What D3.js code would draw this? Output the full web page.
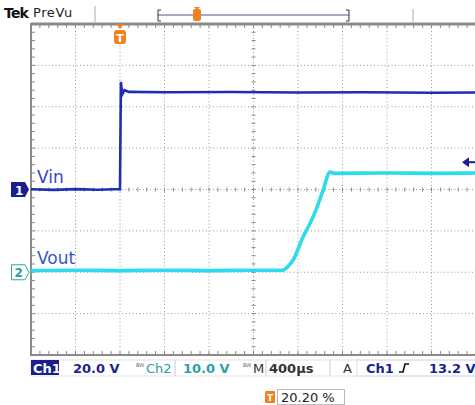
<!DOCTYPE html>
<html>
<head>
<meta charset="utf-8">
<title>Tek PreVu</title>
<style>
  body { margin: 0; background: #fff; }
  text { font-family: "DejaVu Sans", sans-serif; }
</style>
</head>
<body>
<script src="https://d3js.org/d3.v7.min.js"></script>
<script>
// time in microseconds relative to trigger, volts per channel
var vinTime = [-800, -600, -400, -200, -50, 0, 8, 20, 40, 80, 400, 1000, 1600, 2200, 2800, 3200];
var vinVolts = [0.1, -0.2, 0.2, -0.1, 0.1, 0.1, 52, 46, 48, 47.2, 47.0, 47.1, 46.9, 47.0, 46.8, 46.9];

var voutTime = [-800, -400, 0, 400, 800, 1200, 1465, 1510, 1555, 1645, 1708, 1771, 1825, 1888, 1933, 2400, 2800, 3200];
var voutVolts = [0.4, 0.5, 0.4, 0.5, 0.4, 0.5, 0.5, 1.4, 2.9, 8.5, 11.8, 15.7, 19.8, 24.2, 23.9, 24.0, 23.9, 24.0];

var ch1VoltsPerDiv = 20, ch2VoltsPerDiv = 10;
var ch2Offset = -2;       // divisions
var triggerLevel = 13.2;  // volts on Ch1

var width = 475, height = 405;
var svg = d3.select("body").append("svg").attr("width", width).attr("height", height);

var x = d3.scaleLinear().domain([-800, 3200]).range([31, 476]);
var y = d3.scaleLinear().domain([-4, 4]).range([355, 24]);
var divX = d3.scaleLinear().domain([0, 10]).range([31, 476]);

// grid
var grid = svg.append("g");
d3.range(1, 10).forEach(function(i) {
  grid.append("line").attr("x1", divX(i)).attr("x2", divX(i)).attr("y1", 24).attr("y2", 355)
    .attr("stroke", "#999").attr("stroke-dasharray", "1,2.5");
});
d3.range(-3, 4).forEach(function(i) {
  grid.append("line").attr("x1", 31).attr("x2", 476).attr("y1", y(i)).attr("y2", y(i))
    .attr("stroke", "#999").attr("stroke-dasharray", "1,2.5");
});
// minor ticks on centre lines and frame
d3.range(0, 50).forEach(function(i) {
  var xx = divX(i / 5);
  grid.append("line").attr("x1", xx).attr("x2", xx).attr("y1", y(0) - 2).attr("y2", y(0) + 2)
    .attr("stroke", "#888");
  grid.append("line").attr("x1", xx).attr("x2", xx).attr("y1", 24).attr("y2", 28)
    .attr("stroke", "#888");
  grid.append("line").attr("x1", xx).attr("x2", xx).attr("y1", 351).attr("y2", 355)
    .attr("stroke", "#888");
});
d3.range(-20, 21).forEach(function(i) {
  var yy = y(i / 5);
  grid.append("line").attr("x1", divX(5) - 2).attr("x2", divX(5) + 2).attr("y1", yy).attr("y2", yy)
    .attr("stroke", "#888");
  grid.append("line").attr("x1", 31).attr("x2", 35).attr("y1", yy).attr("y2", yy)
    .attr("stroke", "#888");
});
// frame
svg.append("line").attr("x1", 31).attr("x2", 476).attr("y1", 24).attr("y2", 24).attr("stroke", "#8a8a8a").attr("stroke-width", 3);
svg.append("line").attr("x1", 31).attr("x2", 476).attr("y1", 355).attr("y2", 355).attr("stroke", "#8a8a8a").attr("stroke-width", 2);
svg.append("line").attr("x1", 31).attr("x2", 31).attr("y1", 23).attr("y2", 356).attr("stroke", "#8a8a8a").attr("stroke-width", 2);

// traces
var vinLine = d3.line().x(function(d) { return x(d[0]); }).y(function(d) { return y(d[1] / ch1VoltsPerDiv); });
var voutLine = d3.line().x(function(d) { return x(d[0]); }).y(function(d) { return y(d[1] / ch2VoltsPerDiv + ch2Offset); }).curve(d3.curveMonotoneX);

svg.append("path").datum(d3.zip(voutTime, voutVolts)).attr("d", voutLine)
  .attr("fill", "none").attr("stroke", "#2edbea").attr("stroke-width", 3.6);
svg.append("path").datum(d3.zip(vinTime, vinVolts)).attr("d", vinLine)
  .attr("fill", "none").attr("stroke", "#1c2fb0").attr("stroke-width", 2.6);

// labels
svg.append("text").attr("x", 37).attr("y", 183).attr("font-size", 17).attr("fill", "#3a44c8").text("Vin");
svg.append("text").attr("x", 37).attr("y", 264).attr("font-size", 17).attr("fill", "#3a55cc").text("Vout");

// channel markers
var y1 = y(0), y2 = y(ch2Offset);
svg.append("path").attr("d", "M11," + (y1 - 7.5) + "H25L29," + y1 + "L25," + (y1 + 7.5) + "H11Z").attr("fill", "#1a1f8f");
svg.append("text").attr("x", 15).attr("y", y1 + 5).attr("font-size", 12).attr("font-weight", "bold").attr("fill", "#fff").text("1");
svg.append("path").attr("d", "M11.5," + (y2 - 7.5) + "H25L29," + y2 + "L25," + (y2 + 7.5) + "H11.5Z").attr("fill", "#fff").attr("stroke", "#2aa8a8");
svg.append("text").attr("x", 14.5).attr("y", y2 + 5).attr("font-size", 12).attr("font-weight", "bold").attr("fill", "#2aa0a0").text("2");

// trigger level arrow
var yt = y(triggerLevel / ch1VoltsPerDiv);
svg.append("path").attr("d", "M462," + yt + "L469," + (yt - 5) + "L469," + (yt + 5) + "Z").attr("fill", "#1a1f8f");
svg.append("line").attr("x1", 469).attr("x2", 475).attr("y1", yt).attr("y2", yt).attr("stroke", "#1a1f8f").attr("stroke-width", 2);

// trigger position marker
var orange = "#f0821e";
var tx = x(0);
svg.append("path").attr("d", "M" + (tx - 4) + ",24L" + (tx + 4) + ",24L" + tx + ",29Z").attr("fill", orange);
svg.append("rect").attr("x", tx - 6).attr("y", 30).attr("width", 12).attr("height", 14).attr("rx", 3).attr("fill", orange);
svg.append("text").attr("x", tx).attr("y", 42).attr("text-anchor", "middle").attr("font-size", 11).attr("font-weight", "bold").attr("fill", "#fff").text("T");

// header
svg.append("text").attr("x", 4).attr("y", 18).attr("font-size", 14).attr("font-weight", "bold").attr("fill", "#111").attr("letter-spacing", -0.8).text("Tek");
svg.append("text").attr("x", 33).attr("y", 17).attr("font-size", 13).attr("fill", "#222").attr("letter-spacing", 0.6).text("PreVu");
svg.append("line").attr("x1", 95).attr("x2", 95).attr("y1", 6).attr("y2", 22).attr("stroke", "#aaa");
svg.append("line").attr("x1", 158).attr("x2", 349).attr("y1", 15).attr("y2", 15).attr("stroke", "#a8a8c8").attr("stroke-width", 2);
svg.append("path").attr("d", "M161,10H158V21H161").attr("fill", "none").attr("stroke", "#333");
svg.append("path").attr("d", "M346,10H349V21H346").attr("fill", "none").attr("stroke", "#333");
svg.append("rect").attr("x", 193).attr("y", 9).attr("width", 8).attr("height", 12).attr("rx", 2).attr("fill", orange);
svg.append("path").attr("d", "M194,7L200,7L197,10Z").attr("fill", orange);
svg.append("line").attr("x1", 413).attr("x2", 413).attr("y1", 9).attr("y2", 22).attr("stroke", "#aaa");

// status bar
var dark = "#1a1f8f", teal = "#2aa0a8";
svg.append("rect").attr("x", 31).attr("y", 360).attr("width", 445).attr("height", 16).attr("fill", "#fff").attr("stroke", "#e4e4e4");
svg.append("rect").attr("x", 31).attr("y", 360).attr("width", 28).attr("height", 15).attr("fill", dark);
svg.append("text").attr("x", 33).attr("y", 373).attr("font-size", 13).attr("font-weight", "bold").attr("fill", "#fff").text("Ch1");
svg.append("text").attr("x", 73).attr("y", 373).attr("font-size", 13).attr("font-weight", "bold").attr("fill", dark).text("20.0 V");
svg.append("text").attr("x", 136).attr("y", 367).attr("font-size", 5).attr("fill", "#666").text("BW");
svg.append("text").attr("x", 146).attr("y", 373).attr("font-size", 13).attr("fill", teal).text("Ch2");
svg.append("line").attr("x1", 175).attr("x2", 175).attr("y1", 360).attr("y2", 376).attr("stroke", "#ccc");
svg.append("text").attr("x", 183).attr("y", 373).attr("font-size", 13).attr("font-weight", "bold").attr("fill", teal).text("10.0 V");
svg.append("text").attr("x", 243).attr("y", 367).attr("font-size", 5).attr("fill", "#666").text("BW");
svg.append("text").attr("x", 253).attr("y", 373).attr("font-size", 13).attr("fill", "#333").text("M");
svg.append("line").attr("x1", 266).attr("x2", 266).attr("y1", 360).attr("y2", 376).attr("stroke", "#ccc");
svg.append("text").attr("x", 269).attr("y", 373).attr("font-size", 13).attr("font-weight", "bold").attr("fill", "#333").text("400µs");
svg.append("line").attr("x1", 330).attr("x2", 330).attr("y1", 360).attr("y2", 376).attr("stroke", "#ccc");
svg.append("text").attr("x", 343).attr("y", 373).attr("font-size", 13).attr("fill", "#333").text("A");
svg.append("rect").attr("x", 357).attr("y", 360).attr("width", 119).attr("height", 16).attr("fill", "none").attr("stroke", "#dde");
svg.append("text").attr("x", 366).attr("y", 373).attr("font-size", 13).attr("font-weight", "bold").attr("fill", dark).text("Ch1");
svg.append("path").attr("d", "M399,372H403L405,364H409").attr("fill", "none").attr("stroke", "#111").attr("stroke-width", 1.6);
svg.append("text").attr("x", 429).attr("y", 373).attr("font-size", 13).attr("font-weight", "bold").attr("fill", dark).text("13.2 V");

// trigger position readout
svg.append("rect").attr("x", 265).attr("y", 391).attr("width", 10).attr("height", 12).attr("rx", 1).attr("fill", orange);
svg.append("text").attr("x", 270).attr("y", 401).attr("text-anchor", "middle").attr("font-size", 9).attr("font-weight", "bold").attr("fill", "#fff").text("T");
svg.append("rect").attr("x", 277.5).attr("y", 389.5).attr("width", 67).attr("height", 15).attr("fill", "#fff").attr("stroke", "#bbb");
svg.append("text").attr("x", 281).attr("y", 402).attr("font-size", 13).attr("fill", "#222").text("20.20 %");
</script>
</body>
</html>
